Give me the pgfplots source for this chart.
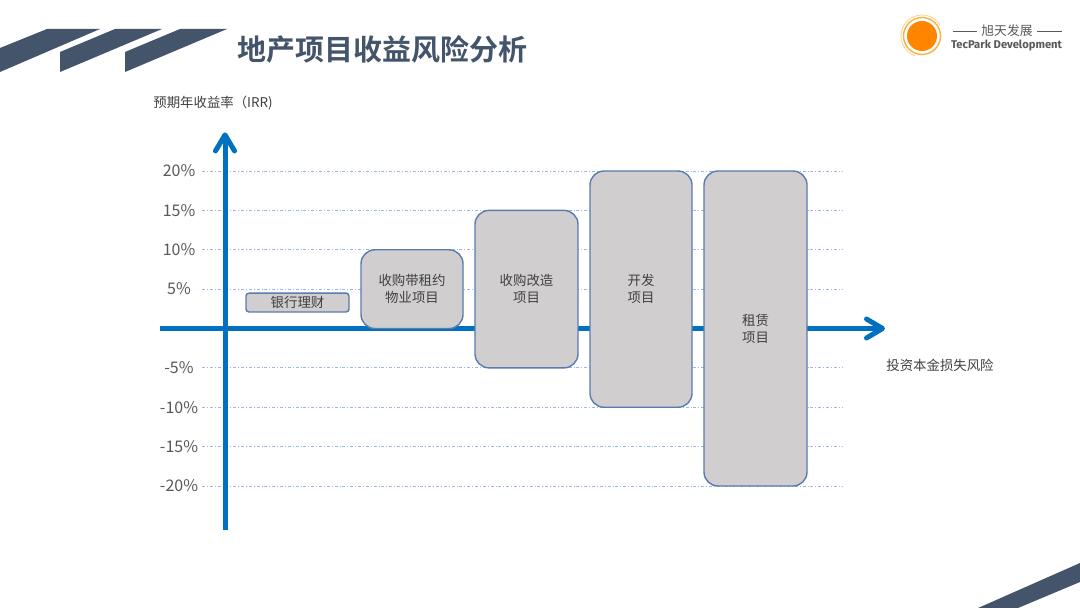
\documentclass[border=0pt]{standalone}
\usepackage{fontspec}
\usepackage{pgfplots}
\pgfplotsset{compat=1.18}
\usetikzlibrary{arrows.meta}
\setmainfont{Noto Sans CJK SC}[BoldFont={Noto Sans CJK SC Bold}]
\newfontfamily\fira{Fira Sans}
\definecolor{slate}{HTML}{44546A}
\definecolor{axblue}{HTML}{0070C0}
\definecolor{boxfill}{HTML}{D0CECE}
\definecolor{boxedge}{HTML}{5A7BB0}
\definecolor{gridc}{HTML}{9DB8E8}
\definecolor{txt}{HTML}{404040}
\definecolor{tickc}{HTML}{595959}
\definecolor{logoor}{HTML}{FF8500}
\definecolor{logoring}{HTML}{FBB040}
\pgfplotsset{
  boxstyle/.style={fill=boxfill, draw=boxedge, line width=0.7pt, mark=none, rounded corners=7pt},
}
\tikzset{
  lbl/.style={text=txt, font=\fontsize{6.7pt}{8.5pt}\selectfont, align=center, inner sep=0pt},
}
\begin{document}
\begin{tikzpicture}[x=0.5pt,y=-0.5pt]
\useasboundingbox (0,0) rectangle (1080,608);
\fill[white] (0,0) rectangle (1080,608);
% decorative stripes
\fill[slate] (0,48) -- (47,29) -- (100,29) -- (0,72) -- cycle;
\fill[slate] (60,72) -- (60,52) -- (115,29) -- (162,29) -- cycle;
\fill[slate] (125,72) -- (125,52) -- (180,29) -- (227,29) -- cycle;
\fill[slate] (978,608) -- (1080,563) -- (1080,582) -- (1018,608) -- cycle;
% title
\node[anchor=west, text=slate, font=\fontsize{14.5pt}{16pt}\selectfont\bfseries, inner sep=0pt] at (237,50) {地产项目收益风险分析};
% logo
\fill[logoor] (922,36) circle[radius=15];
\draw[logoring, line width=0.7pt] (922,36) circle[radius=18.5];
\draw[logoring!60, line width=0.4pt] (922,36) ++(110:21) arc[start angle=110, end angle=330, radius=21];
\node[text=tickc, font=\fontsize{6.4pt}{7pt}\selectfont, inner sep=0pt] at (1007,31) {旭天发展};
\draw[tickc, line width=0.4pt] (953,31) -- (977,31);
\draw[tickc, line width=0.4pt] (1037,31) -- (1062,31);
\node[text=tickc, inner sep=0pt] at (1006.5,45) {\resizebox{55.5pt}{!}{\fira\bfseries TecPark Development}};
% axis titles
\node[anchor=west, text=txt, font=\fontsize{6.7pt}{8pt}\selectfont, inner sep=0pt] at (153,103) {预期年收益率（IRR)};
\node[anchor=west, text=txt, font=\fontsize{6.7pt}{8pt}\selectfont, inner sep=0pt] at (886,365) {投资本金损失风险};
\begin{axis}[
  at={(101pt,-243pt)}, anchor=south west,
  width=320.5pt, height=157.5pt, scale only axis,
  xmin=202, xmax=843, ymin=-20, ymax=20,
  clip=false,
  axis line style={draw=none},
  major tick length=0pt,
  xtick=\empty,
  ytick={-20,-15,-10,-5,5,10,15,20},
  yticklabels={-20\%,-15\%,-10\%,-5\%,5\%,10\%,15\%,20\%},
  yticklabel style={anchor=center, xshift=-11.5pt, text=tickc, font=\fontsize{8pt}{9pt}\selectfont},
  ymajorgrids,
  grid style={gridc, line width=0.4pt, dash pattern=on 1.5pt off 1pt on 0.4pt off 1pt},
]
% axes arrows
\addplot[axblue, line width=2.5pt, mark=none, -{Straight Barb[length=8pt, width=9.5pt, round]}] coordinates {(225,-25.6) (225,24.9)};
\addplot[axblue, line width=2.5pt, mark=none, -{Straight Barb[length=8pt, width=9.5pt, round]}] coordinates {(160,0) (885,0)};
% boxes: (x range in px, y range in %)
\addplot[boxstyle, rounded corners=1.5pt] coordinates {(297.5,2.1) (349,2.1) (349,4.5) (246,4.5) (246,2.1) (297.5,2.1)};
\addplot[boxstyle] coordinates {(412,0) (463,0) (463,10) (361,10) (361,0) (412,0)};
\addplot[boxstyle] coordinates {(526.5,-5) (578,-5) (578,15) (475,15) (475,-5) (526.5,-5)};
\addplot[boxstyle] coordinates {(641,-10) (692,-10) (692,20) (590,20) (590,-10) (641,-10)};
\addplot[boxstyle] coordinates {(755.5,-20) (807,-20) (807,20) (704,20) (704,-20) (755.5,-20)};
\node[lbl] at (axis cs:297.5,3.3) {银行理财};
\node[lbl] at (axis cs:412,5) {收购带租约\\物业项目};
\node[lbl] at (axis cs:526.5,5) {收购改造\\项目};
\node[lbl] at (axis cs:641,5) {开发\\项目};
\node[lbl] at (axis cs:755.5,0) {租赁\\项目};
\end{axis}
\end{tikzpicture}
\end{document}
